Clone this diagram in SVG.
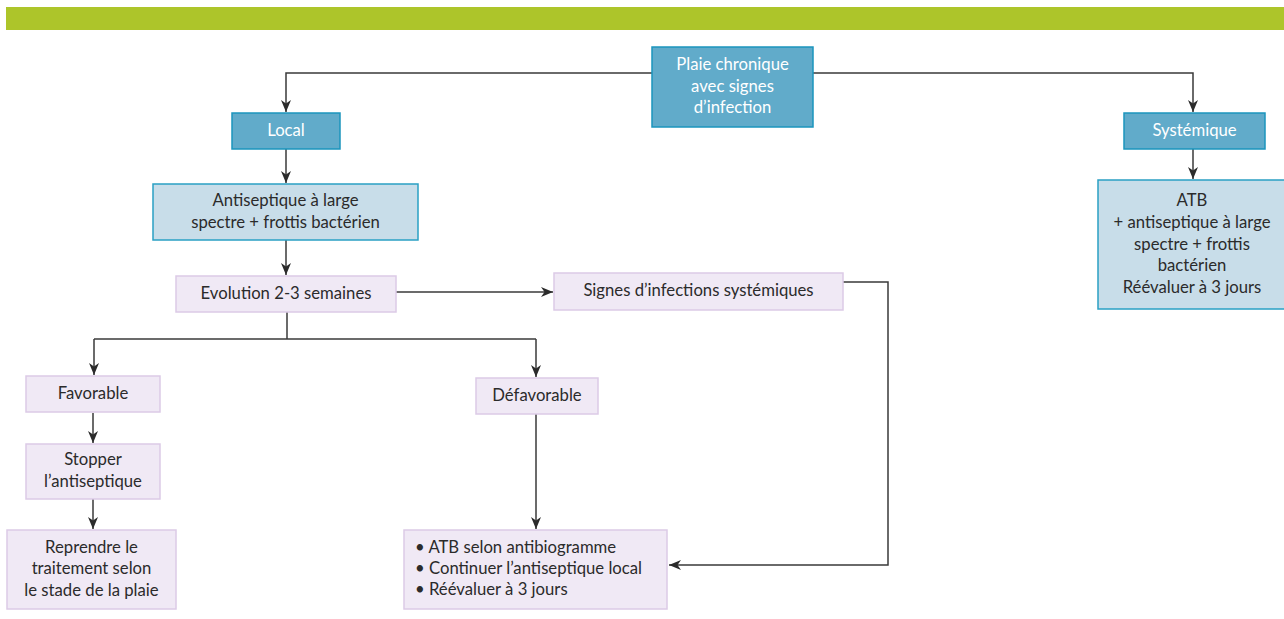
<svg xmlns="http://www.w3.org/2000/svg" width="1284" height="619" viewBox="0 0 1284 619">
<defs>
<marker id="arr" viewBox="0 0 12 10" refX="12" refY="5" markerWidth="12" markerHeight="10" markerUnits="userSpaceOnUse" orient="auto">
<path d="M0,0 L12,5 L0,10 L3.5,5 z" fill="#2b2b2b"/>
</marker>
<style>
text{font-family:"Lato","Liberation Sans",sans-serif;font-size:16.7px;fill:#2b2b2b;text-anchor:middle}
.dark rect{fill:#61abca;stroke:#1b95bd;stroke-width:1.5}
.dark text{fill:#ffffff}
.light rect{fill:#c8dde9;stroke:#2aa0c4;stroke-width:1.5}
.pale rect{fill:#f0e9f5;stroke:#dccae6;stroke-width:1.5}
.left{text-anchor:start}
#connectors path{fill:none;stroke:#3a3a3a;stroke-width:1.5}
.arr{marker-end:url(#arr)}
</style>
</defs>
<rect x="6" y="7" width="1278" height="23" fill="#adc52a"/>
<g id="connectors">
<path d="M652,73 H286 V112" class="arr"/>
<path d="M813,73 H1193 V112" class="arr"/>
<path d="M286,149 V183" class="arr"/>
<path d="M1193,149 V179" class="arr"/>
<path d="M286,240 V275" class="arr"/>
<path d="M396,292 H553" class="arr"/>
<path d="M287,312 V339"/>
<path d="M94,339 H536"/>
<path d="M94,339 V375" class="arr"/>
<path d="M536,339 V377" class="arr"/>
<path d="M93,413 V443" class="arr"/>
<path d="M93,499 V529" class="arr"/>
<path d="M536,414 V529" class="arr"/>
<path d="M843,282 H888 V565 H669" class="arr"/>
</g>
<g id="n-plaie" class="dark">
<rect x="652" y="47" width="161" height="80"/>
<text x="732.5" y="70">Plaie chronique</text>
<text x="732.5" y="92">avec signes</text>
<text x="732.5" y="113">d’infection</text>
</g>
<g id="n-local" class="dark">
<rect x="232" y="113" width="108" height="36"/>
<text x="286" y="136">Local</text>
</g>
<g id="n-systemique" class="dark">
<rect x="1124" y="113" width="141" height="36"/>
<text x="1194.5" y="136">Systémique</text>
</g>
<g id="n-antiseptique" class="light">
<rect x="153" y="184" width="265" height="56"/>
<text x="285.5" y="206">Antiseptique à large</text>
<text x="285.5" y="228">spectre + frottis bactérien</text>
</g>
<g id="n-atb" class="light">
<rect x="1098" y="180" width="190" height="129"/>
<text x="1192" y="206">ATB</text>
<text x="1192" y="228">+ antiseptique à large</text>
<text x="1192" y="250">spectre + frottis</text>
<text x="1192" y="271">bactérien</text>
<text x="1192" y="293">Réévaluer à 3 jours</text>
</g>
<g id="n-evolution" class="pale">
<rect x="176" y="276" width="220" height="36"/>
<text x="286" y="299">Evolution 2-3 semaines</text>
</g>
<g id="n-signes" class="pale">
<rect x="554" y="273" width="289" height="37"/>
<text x="698.5" y="296">Signes d’infections systémiques</text>
</g>
<g id="n-favorable" class="pale">
<rect x="26" y="376" width="134" height="36"/>
<text x="93" y="399">Favorable</text>
</g>
<g id="n-defavorable" class="pale">
<rect x="476" y="378" width="122" height="36"/>
<text x="537" y="401">Défavorable</text>
</g>
<g id="n-stopper" class="pale">
<rect x="26" y="444" width="134" height="55"/>
<text x="93" y="465">Stopper</text>
<text x="93" y="487">l’antiseptique</text>
</g>
<g id="n-reprendre" class="pale">
<rect x="7" y="530" width="169" height="79"/>
<text x="91.5" y="553">Reprendre le</text>
<text x="91.5" y="574">traitement selon</text>
<text x="91.5" y="596">le stade de la plaie</text>
</g>
<g id="n-atb-local" class="pale">
<rect x="404" y="530" width="263" height="79"/>
<text class="left" x="415" y="553">• ATB selon antibiogramme</text>
<text class="left" x="415" y="574">• Continuer l’antiseptique local</text>
<text class="left" x="415" y="595">• Réévaluer à 3 jours</text>
</g>
</svg>
